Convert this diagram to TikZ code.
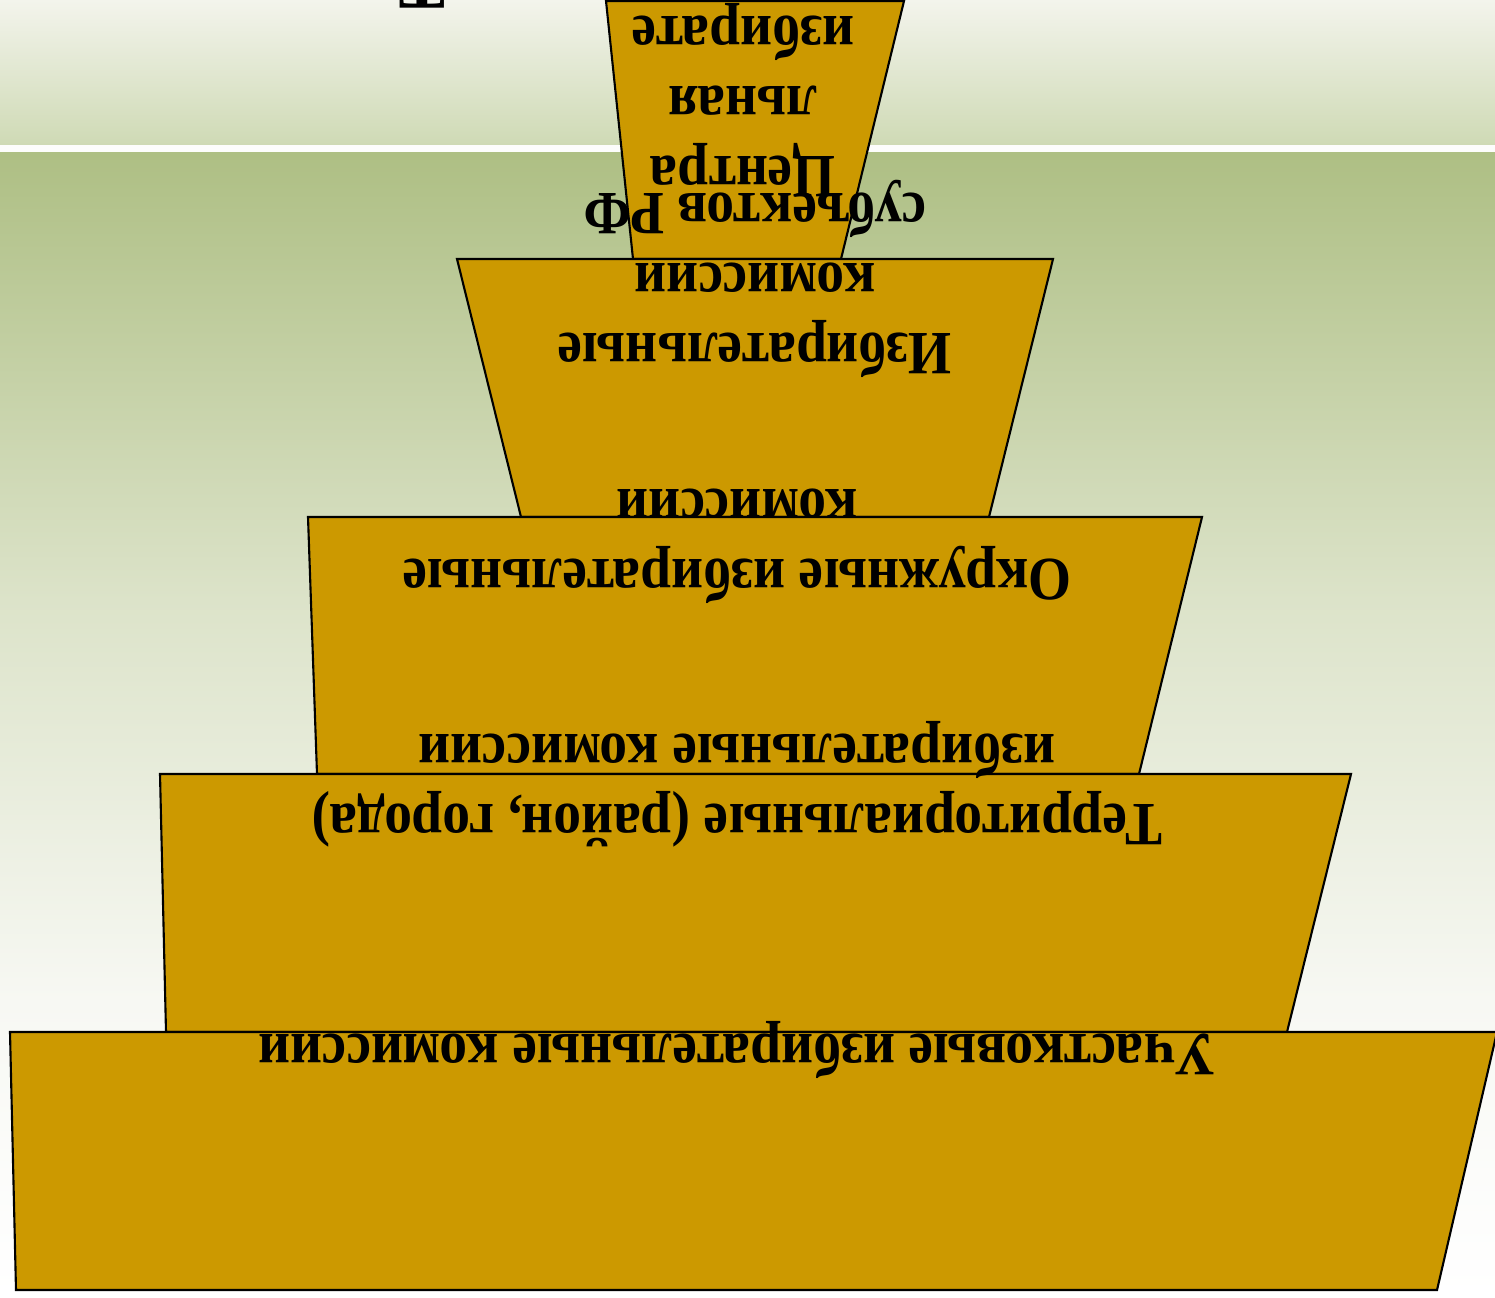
\documentclass[tikz,border=0pt]{standalone}
\usepackage{fontspec}
\setmainfont{Liberation Serif}

\definecolor{gold}{HTML}{CC9900}
\definecolor{bgtop}{HTML}{F3F4EC}
\definecolor{bgmid}{HTML}{CFDAB5}
\definecolor{bggreen}{HTML}{AEBF84}
\definecolor{bgpale}{HTML}{DCE3C9}
\definecolor{bgwhite}{HTML}{F7F8F3}

\tikzset{
  tier/.style={fill=gold, draw=black, line width=0.6pt},
  label/.style={rotate=180, xscale=0.9, align=center, inner sep=0pt,
    font=\fontsize{17.5}{19.9}\selectfont\bfseries}
}

\begin{document}
\begin{tikzpicture}[x=0.01cm, y=-0.01cm]
      \useasboundingbox (0,0) rectangle (1495,1297);

      % background
      \shade[top color=bgtop, bottom color=bgmid] (0,0) rectangle (1495,145);
      \fill[white!96!bgmid] (0,145) rectangle (1495,153);
      \shade[top color=bggreen, bottom color=bgpale] (0,153) rectangle (1495,600);
      \shade[top color=bgpale, bottom color=bgwhite] (0,600) rectangle (1495,1000);
      \shade[top color=bgwhite, bottom color=white] (0,1000) rectangle (1495,1297);

      % tiers, top to bottom
      \filldraw[tier] (606,1) -- (904,1) -- (841,259) -- (633,259) -- cycle;
      \filldraw[tier] (457,259) -- (1053,259) -- (989,517) -- (521,517) -- cycle;
      \filldraw[tier] (308,517) -- (1202,517) -- (1139,774) -- (317,774) -- cycle;
      \filldraw[tier] (160,774) -- (1351,774) -- (1287,1032) -- (166,1032) -- cycle;
      \filldraw[tier] (10,1032) -- (1497,1032) -- (1437,1290) -- (16,1290) -- cycle;

      \begin{scope}[every node/.style={label}]
        \node (cut) [anchor=north] at (422,9) {\fontsize{22}{22}\selectfont Т};
        \node (cik) at (743,100) {Центра\\льная\\избирате};
        \node (subj) at (755,279) {Избирательные\\комиссии\\субъектов РФ};
        \node (okr) at (737,546) {Окружные избирательные\\комиссии};
        \node (terr) at (737,784) {Территориальные (район, города)\\избирательные комиссии};
        \node (uch) at (737,1050) {Участковые избирательные комиссии};
      \end{scope}
   \end{tikzpicture}
\end{document}
